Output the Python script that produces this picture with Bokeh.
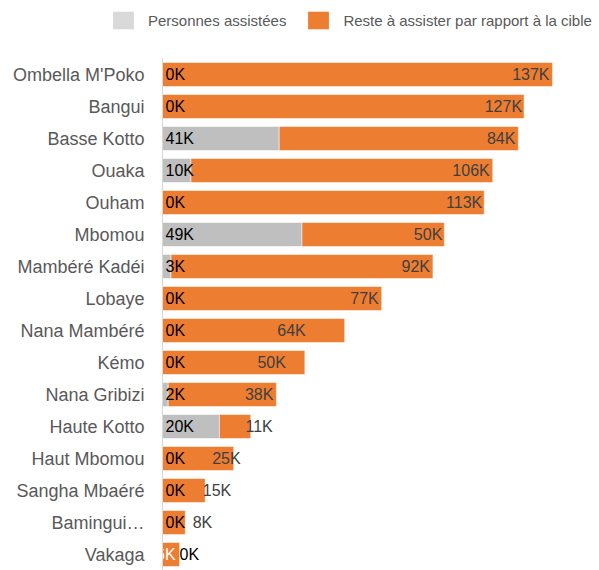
from bokeh.plotting import figure
from bokeh.layouts import column, row
from bokeh.models import ColumnDataSource, Range1d, FactorRange, Legend, LegendItem
from bokeh.core.properties import value
from bokeh.embed import file_html
from bokeh.resources import INLINE

# ---- data (thousands of people) ----
regions = ["Ombella M'Poko", "Bangui", "Basse Kotto", "Ouaka", "Ouham", "Mbomou",
           "Mambéré Kadéi", "Lobaye", "Nana Mambéré", "Kémo", "Nana Gribizi",
           "Haute Kotto", "Haut Mbomou", "Sangha Mbaéré", "Bamingui…", "Vakaga"]
assisted_k = [0, 0, 41, 10, 0, 49, 3, 0, 0, 0, 2, 20, 0, 0, 0, 0]
remaining_k = [137, 127, 84, 106, 113, 50, 92, 77, 64, 50, 38, 11, 25, 15, 8, 6]
series_names = ["Personnes assistées", "Reste à assister par rapport à la cible"]

# ---- label placement / style tweaks (pixels) ----
gray_label_dx = [3, 3, 3, 3, 3, 3, 3, 3, 3, 3, 3, 3, 3, 3, 3, 17]
orange_label_dx = [-3, -2, -3, -3, -2, -2, -3, -3, -39, -19, -3, 22, 7, 26, 27, -4]
orange_label_color = ["#404040"] * 15 + ["#ffffff"]

GRAY = "#BFBFBF"
ORANGE = "#ED7D31"
FONT = "Liberation Sans"

totals = [a + r for a, r in zip(assisted_k, remaining_k)]
src = ColumnDataSource(dict(
    region=regions,
    zero=[0] * len(regions),
    assisted=assisted_k,
    total=totals,
    gray_lab=[f"{v}K" for v in assisted_k],
    orange_lab=[f"{v}K" for v in remaining_k],
    gdx=gray_label_dx,
    odx=orange_label_dx,
    ocol=orange_label_color,
))

# ---- legend strip ----
lp = figure(width=599, height=50, output_backend="svg", toolbar_location=None,
            x_range=Range1d(0, 1), y_range=Range1d(0, 1),
            min_border_left=0, min_border_right=0, min_border_top=0, min_border_bottom=0)
lp.outline_line_color = None
lp.axis.visible = False
lp.grid.visible = False
lg_gray = lp.hbar(y=[-10], left=[0], right=[0], height=0.5, fill_color="#D9D9D9", line_color=None)
lg_orange = lp.hbar(y=[-10], left=[0], right=[0], height=0.5, fill_color=ORANGE, line_color=None)
legend = Legend(items=[LegendItem(label=series_names[0], renderers=[lg_gray]),
                       LegendItem(label=series_names[1], renderers=[lg_orange])],
                orientation="horizontal", location=(110, 19),
                glyph_width=26, glyph_height=22, label_height=22,
                label_standoff=12, spacing=19, padding=0, margin=0,
                border_line_color=None, background_fill_alpha=0,
                label_text_font=FONT, label_text_font_size="15px",
                label_text_color="#595959")
lp.add_layout(legend, "center")

# ---- main chart ----
p = figure(width=599, height=520, output_backend="svg", toolbar_location=None,
           y_range=FactorRange(factors=regions[::-1], range_padding=0),
           x_range=Range1d(0, 153.5),
           min_border_left=162, min_border_right=0, min_border_top=8,
           min_border_bottom=0)
p.outline_line_color = None
p.xgrid.visible = False
p.ygrid.visible = False
p.xaxis.visible = False

ya = p.yaxis[0]
ya.axis_line_color = "#D9D9D9"
ya.axis_line_width = 1
ya.major_tick_line_color = None
ya.minor_tick_line_color = None
ya.major_tick_out = 0
ya.major_tick_in = 0
ya.major_label_standoff = 18
ya.major_label_text_font = FONT
ya.major_label_text_font_size = "18px"
ya.major_label_text_color = "#595959"

p.hbar(y="region", left="zero", right="assisted", height=0.75, source=src,
       fill_color=GRAY, line_color="white", line_alpha=0.5, line_width=1)
p.hbar(y="region", left="assisted", right="total", height=0.75, source=src,
       fill_color=ORANGE, line_color="white", line_alpha=0.5, line_width=1)

p.text(x="zero", y="region", text="gray_lab", source=src, x_offset="gdx",
       text_align="left", text_baseline="middle", text_color="#000000",
       text_font=value(FONT), text_font_size=value("16px"))
p.text(x="total", y="region", text="orange_lab", source=src, x_offset="odx",
       text_align="right", text_baseline="middle", text_color="ocol",
       text_font=value(FONT), text_font_size=value("16px"))

layout = column(row(lp), row(p), spacing=0)
open("out.html", "w").write(file_html(layout, INLINE))
